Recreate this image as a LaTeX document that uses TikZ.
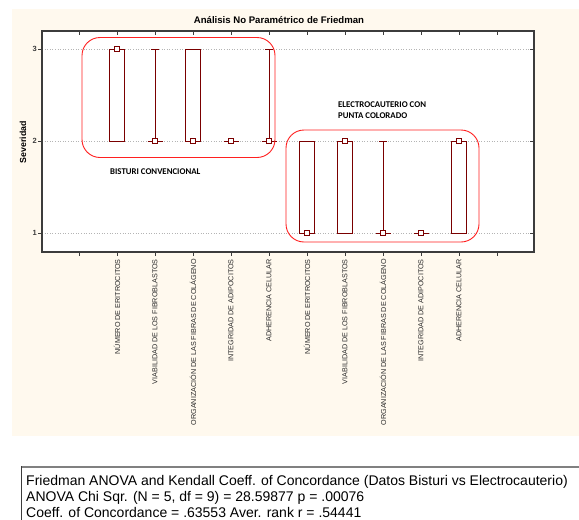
\documentclass[tikz,border=0pt]{standalone}
\usepackage{fontspec}
\setmainfont{Liberation Sans}
\newfontfamily\carl{Carlito}
\definecolor{cream}{HTML}{FFF9EE}
\definecolor{boxred}{HTML}{7A0000}
\definecolor{framegray}{HTML}{3C3C3C}
\definecolor{gridgray}{HTML}{B4B4B4}
\definecolor{labgray}{HTML}{2A2A2A}
\definecolor{grpred}{HTML}{FF2020}
\begin{document}
\begin{tikzpicture}[x=1pt,y=-1pt,
  plotframe/.style={draw=framegray,line width=1.1pt},
  gridline/.style={draw=gridgray,dotted,line width=0.6pt},
  tickln/.style={draw=framegray,line width=0.8pt},
  boxst/.style={draw=boxred,fill=white,line width=0.9pt},
  whisk/.style={draw=boxred,line width=0.9pt},
  medmk/.style={rectangle,draw=boxred,fill=white,line width=0.8pt,minimum size=4.5pt,inner sep=0pt},
  grp/.style={draw=grpred,line width=0.9pt,rounded corners=18pt},
  xlab/.style={rotate=90,anchor=east,inner sep=0pt,text=labgray,font=\fontsize{7.2}{8}\selectfont},
  ylabn/.style={anchor=east,inner sep=0pt,text=framegray,font=\bfseries\fontsize{7.5}{8}\selectfont},
  grplab/.style={inner sep=0pt,font=\carl\bfseries\fontsize{8.8}{10.5}\selectfont},
  stattxt/.style={anchor=base west,inner sep=0pt,font=\fontsize{14}{16}\selectfont}]
\useasboundingbox (0,0) rectangle (579,520);
\fill[white] (0,0) rectangle (579,520);
\fill[cream] (12,9) rectangle (579,436);
\fill[white] (42,31) rectangle (534,252);
% grid
\foreach \yy in {49,141,233} \draw[gridline] (42,\yy) -- (534,\yy);
% frame and ticks
\draw[plotframe] (42,31) rectangle (534,252);
\foreach \k in {0,...,11} {
  \draw[tickln] ({79+38*\k},31) -- ++(0,4);
  \draw[tickln] ({79+38*\k},252) -- ++(0,4);
}
\foreach \yy in {49,141,233} {
  \draw[tickln] (42,\yy) -- ++(-4,0);
  \draw[tickln] (534,\yy) -- ++(-4,0);
}
\node[ylabn] (y3) at (37,49) {3};
\node[ylabn] (y2) at (37,141) {2};
\node[ylabn] (y1) at (37,233) {1};
% title and axis label
\node[inner sep=0pt,font=\bfseries\fontsize{9.6}{11}\selectfont] (title) at (279,20) {Análisis No Paramétrico de Friedman};
\node[rotate=90,inner sep=0pt,font=\bfseries\fontsize{8.8}{10}\selectfont] (ylab) at (23,142) {Severidad};
% boxes
\draw[boxst] (109.5,49) rectangle (124.5,141);
\draw[whisk] (155,49) -- (155,141) (151,49) -- (159,49) (147.5,141) -- (162.5,141);
\draw[boxst] (185.5,49) rectangle (200.5,141);
\draw[whisk] (223.5,141) -- (238.5,141);
\draw[whisk] (269,49) -- (269,141) (265,49) -- (273,49) (261.5,141) -- (276.5,141);
\draw[boxst] (299.5,141) rectangle (314.5,233);
\draw[boxst] (337.5,141) rectangle (352.5,233);
\draw[whisk] (383,141) -- (383,233) (379,141) -- (387,141) (375.5,233) -- (390.5,233);
\draw[whisk] (413.5,233) -- (428.5,233);
\draw[boxst] (451.5,141) rectangle (466.5,233);
% medians
\node[medmk] (m1) at (117,49) {};
\node[medmk] (m2) at (155,141) {};
\node[medmk] (m3) at (193,141) {};
\node[medmk] (m4) at (231,141) {};
\node[medmk] (m5) at (269,141) {};
\node[medmk] (m6) at (307,233) {};
\node[medmk] (m7) at (345,141) {};
\node[medmk] (m8) at (383,233) {};
\node[medmk] (m9) at (421,233) {};
\node[medmk] (m10) at (459,141) {};
% group outlines
\draw[grp] (82,37.5) rectangle (275,157.5);
\draw[grp] (286,130) rectangle (479,242);
\node[grplab,anchor=west] (g1) at (110,172) {BISTURI CONVENCIONAL};
\node[grplab,anchor=north west,align=left] (g2) at (338,102) {ELECTROCAUTERIO CON\\PUNTA COLORADO};
% x labels
\foreach \i/\t in {1/{NÚMERO DE ERITROCITOS},2/{VIABILIDAD DE LOS FIBROBLASTOS},3/{ORGANIZACIÓN DE LAS FIBRAS DE COLÁGENO},4/{INTEGRIDAD DE ADIPOCITOS},5/{ADHERENCIA CELULAR},6/{NÚMERO DE ERITROCITOS},7/{VIABILIDAD DE LOS FIBROBLASTOS},8/{ORGANIZACIÓN DE LAS FIBRAS DE COLÁGENO},9/{INTEGRIDAD DE ADIPOCITOS},10/{ADHERENCIA CELULAR}}
  \node[xlab] (xl\i) at ({79+38*\i},259) {\t};
% stats box
\draw[draw=gray,line width=2pt] (21,467) -- (579,467);
\draw[draw=framegray,line width=1pt] (21.5,466) -- (21.5,520);
\node[stattxt] (s1) at (26,485) {Friedman ANOVA and Kendall Coeff. of Concordance (Datos Bisturi vs Electrocauterio)};
\node[stattxt] (s2) at (26,501) {ANOVA Chi Sqr. (N = 5, df = 9) = 28.59877 p = .00076};
\node[stattxt] (s3) at (26,517) {Coeff. of Concordance = .63553 Aver. rank r = .54441};
\end{tikzpicture}
\end{document}
